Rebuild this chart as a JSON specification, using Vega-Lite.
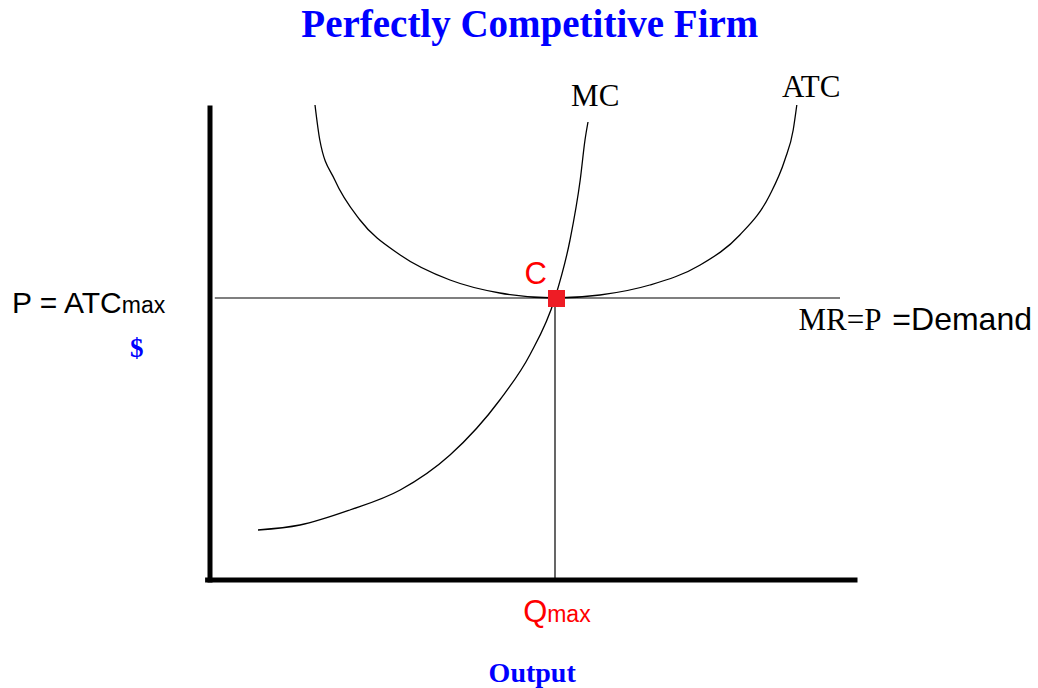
{
  "$schema": "https://vega.github.io/schema/vega-lite/v6.json",
  "width": 1038,
  "height": 688,
  "padding": 0,
  "autosize": {"type": "fit", "contains": "padding"},
  "background": "white",
  "config": {"view": {"stroke": null}},
  "datasets": {
    "axes": [
      {"q": 0, "p": 0, "q2": 0, "p2": 94.4},
      {"q": -0.4, "p": 0, "q2": 107.5, "p2": 0}
    ],
    "guides": [
      {"q": 0.8, "p": 56.4, "q2": 105, "p2": 56.4},
      {"q": 57.5, "p": 0, "q2": 57.5, "p2": 56.4}
    ],
    "curves": [
      {"curve": "MC", "i": 1, "q": 8, "p": 10},
      {"curve": "MC", "i": 2, "q": 15, "p": 11},
      {"curve": "MC", "i": 3, "q": 23.3, "p": 14},
      {"curve": "MC", "i": 4, "q": 31.7, "p": 18},
      {"curve": "MC", "i": 5, "q": 40, "p": 25},
      {"curve": "MC", "i": 6, "q": 48.3, "p": 36},
      {"curve": "MC", "i": 7, "q": 53.3, "p": 45},
      {"curve": "MC", "i": 8, "q": 57.5, "p": 56.4},
      {"curve": "MC", "i": 9, "q": 60, "p": 68},
      {"curve": "MC", "i": 10, "q": 61.7, "p": 80},
      {"curve": "MC", "i": 11, "q": 62.5, "p": 88},
      {"curve": "MC", "i": 12, "q": 63, "p": 91.6},
      {"curve": "ATC", "i": 1, "q": 17.5, "p": 95},
      {"curve": "ATC", "i": 2, "q": 18.3, "p": 88},
      {"curve": "ATC", "i": 3, "q": 20.8, "p": 80},
      {"curve": "ATC", "i": 4, "q": 25, "p": 72},
      {"curve": "ATC", "i": 5, "q": 31.7, "p": 65},
      {"curve": "ATC", "i": 6, "q": 40, "p": 60},
      {"curve": "ATC", "i": 7, "q": 48.3, "p": 57.4},
      {"curve": "ATC", "i": 8, "q": 57.5, "p": 56.4},
      {"curve": "ATC", "i": 9, "q": 65, "p": 57},
      {"curve": "ATC", "i": 10, "q": 73.3, "p": 59},
      {"curve": "ATC", "i": 11, "q": 81.7, "p": 63},
      {"curve": "ATC", "i": 12, "q": 88.3, "p": 69},
      {"curve": "ATC", "i": 13, "q": 93.3, "p": 77},
      {"curve": "ATC", "i": 14, "q": 95.8, "p": 84},
      {"curve": "ATC", "i": 15, "q": 97.2, "p": 90},
      {"curve": "ATC", "i": 16, "q": 97.8, "p": 95}
    ],
    "point": [{"q": 57.75, "p": 56.3}],
    "title": [{"q": 53.3, "p": 108.6, "label": "Perfectly Competitive Firm"}],
    "curveLabels": [
      {"q": 64.2, "p": 94.8, "label": "MC"},
      {"q": 100.2, "p": 96.6, "label": "ATC"}
    ],
    "blueAxisLabels": [
      {"q": -12.2, "p": 44.6, "label": "$", "size": 27},
      {"q": 53.7, "p": -20.4, "label": "Output", "size": 28}
    ],
    "bigSans": [
      {"q": -33, "p": 53.4, "label": "P = ATC"}
    ],
    "smallSans": [
      {"q": -14.7, "p": 53.4, "label": "max"}
    ],
    "redC": [
      {"q": 54.3, "p": 59.2, "label": "C"}
    ],
    "redQ": [
      {"q": 52.2, "p": -8.4, "label": "Q"}
    ],
    "redSmall": [
      {"q": 56.2, "p": -8.4, "label": "max"}
    ],
    "mrSerif": [{"q": 105, "p": 50, "label": "MR=P"}],
    "demand": [{"q": 137, "p": 50, "label": "=Demand"}]
  },
  "encoding": {
    "x": {"field": "q", "type": "quantitative", "scale": {"domain": [-35, 138], "nice": false, "zero": false}, "axis": null},
    "y": {"field": "p", "type": "quantitative", "scale": {"domain": [-21.6, 116], "nice": false, "zero": false}, "axis": null}
  },
  "layer": [
    {
      "data": {"name": "guides"},
      "mark": {"type": "rule", "color": "black", "strokeWidth": 1.2},
      "encoding": {"x2": {"field": "q2"}, "y2": {"field": "p2"}}
    },
    {
      "data": {"name": "axes"},
      "mark": {"type": "rule", "color": "black", "strokeWidth": 5, "strokeCap": "square"},
      "encoding": {"x2": {"field": "q2"}, "y2": {"field": "p2"}}
    },
    {
      "data": {"name": "curves"},
      "mark": {"type": "line", "color": "black", "strokeWidth": 1.3, "interpolate": "monotone"},
      "encoding": {"detail": {"field": "curve"}, "order": {"field": "i", "type": "quantitative"}}
    },
    {
      "data": {"name": "point"},
      "mark": {"type": "point", "shape": "square", "filled": true, "color": "#ee1c25", "size": 289, "opacity": 1}
    },
    {
      "data": {"name": "title"},
      "mark": {"type": "text", "font": "Liberation Serif", "fontWeight": "bold", "fontSize": 39, "color": "#0000ff", "align": "center", "baseline": "alphabetic"},
      "encoding": {"text": {"field": "label"}}
    },
    {
      "data": {"name": "curveLabels"},
      "mark": {"type": "text", "font": "Liberation Serif", "fontSize": 31, "color": "black", "align": "center", "baseline": "alphabetic"},
      "encoding": {"text": {"field": "label"}}
    },
    {
      "data": {"name": "blueAxisLabels"},
      "mark": {"type": "text", "font": "Liberation Serif", "fontWeight": "bold", "color": "#0000ff", "align": "center", "baseline": "alphabetic"},
      "encoding": {"text": {"field": "label"}, "size": {"field": "size", "type": "quantitative", "scale": null}}
    },
    {
      "data": {"name": "bigSans"},
      "mark": {"type": "text", "font": "Liberation Sans", "fontSize": 30, "color": "black", "align": "left", "baseline": "alphabetic"},
      "encoding": {"text": {"field": "label"}}
    },
    {
      "data": {"name": "smallSans"},
      "mark": {"type": "text", "font": "Liberation Sans", "fontSize": 23, "color": "black", "align": "left", "baseline": "alphabetic"},
      "encoding": {"text": {"field": "label"}}
    },
    {
      "data": {"name": "redC"},
      "mark": {"type": "text", "font": "Liberation Sans", "fontSize": 31, "color": "#ff0000", "align": "center", "baseline": "alphabetic"},
      "encoding": {"text": {"field": "label"}}
    },
    {
      "data": {"name": "redQ"},
      "mark": {"type": "text", "font": "Liberation Sans", "fontSize": 31, "color": "#ff0000", "align": "left", "baseline": "alphabetic"},
      "encoding": {"text": {"field": "label"}}
    },
    {
      "data": {"name": "redSmall"},
      "mark": {"type": "text", "font": "Liberation Sans", "fontSize": 23, "color": "#ff0000", "align": "left", "baseline": "alphabetic"},
      "encoding": {"text": {"field": "label"}}
    },
    {
      "data": {"name": "mrSerif"},
      "mark": {"type": "text", "font": "Liberation Serif", "fontSize": 31, "color": "black", "align": "center", "baseline": "alphabetic"},
      "encoding": {"text": {"field": "label"}}
    },
    {
      "data": {"name": "demand"},
      "mark": {"type": "text", "font": "Liberation Sans", "fontSize": 32, "color": "black", "align": "right", "baseline": "alphabetic"},
      "encoding": {"text": {"field": "label"}}
    }
  ]
}
